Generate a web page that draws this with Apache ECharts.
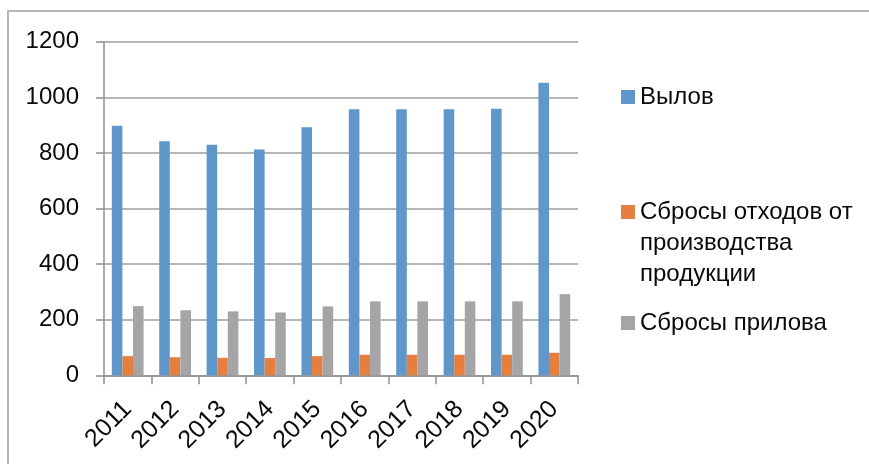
<!DOCTYPE html>
<html>
<head>
<meta charset="utf-8">
<script src="https://cdn.jsdelivr.net/npm/echarts@6/dist/echarts.min.js"></script>
<style>
html,body{margin:0;padding:0;background:#fff;}
#chart{width:869px;height:464px;}
</style>
</head>
<body>
<div id="chart"></div>
<script>
const years = ['2011','2012','2013','2014','2015','2016','2017','2018','2019','2020'];
const seriesNames = ['Вылов', 'Сбросы отходов от производства продукции', 'Сбросы прилова'];
const catch_ = [898, 842, 829, 812, 892, 957, 957, 957, 959, 1052];
const wasteDischarge = [69, 65, 63, 62, 69, 74, 74, 74, 74, 81];
const bycatchDischarge = [249, 234, 230, 226, 248, 266, 266, 266, 266, 292];
const yTicks = [0, 200, 400, 600, 800, 1000, 1200];

const colors = ['#5f97cb', '#e57f3f', '#a5a5a8'];
const font = 'Liberation Sans, Arial, sans-serif';

const chart = echarts.init(document.getElementById('chart'));
const legendText = {fontFamily: font, fontSize: 24, color: '#0a0a0a', lineHeight: 31};
chart.setOption({
  animation: false,
  color: colors,
  grid: {left: 104, right: 291, top: 41.7, bottom: 88.7, containLabel: false},
  legend: [
    {data: [seriesNames[0]], orient: 'vertical', left: 621, top: 81.5, padding: 0,
     itemWidth: 14, itemHeight: 14, icon: 'rect', textStyle: legendText},
    {data: [seriesNames[1]], orient: 'vertical', left: 621, top: 134.5, padding: 0,
     itemWidth: 14, itemHeight: 14, icon: 'rect',
     formatter: function(){ return '\n\nСбросы отходов от\nпроизводства\nпродукции'; },
     textStyle: legendText},
    {data: [seriesNames[2]], orient: 'vertical', left: 621, top: 307.5, padding: 0,
     itemWidth: 14, itemHeight: 14, icon: 'rect', textStyle: legendText}
  ],
  xAxis: {
    type: 'category',
    data: years,
    boundaryGap: true,
    axisLine: {lineStyle: {color: '#8f8f8f', width: 1.5}},
    axisTick: {show: true, length: 9, interval: 0, lineStyle: {color: '#8f8f8f', width: 1.5}},
    axisLabel: {rotate: 45, interval: 0, margin: 30, fontFamily: font, fontSize: 25, color: '#0a0a0a'}
  },
  yAxis: {
    type: 'value',
    min: yTicks[0],
    max: yTicks[yTicks.length - 1],
    interval: 200,
    axisLine: {show: true, lineStyle: {color: '#8f8f8f', width: 1.5}},
    axisTick: {show: true, length: 8, lineStyle: {color: '#8f8f8f', width: 1.5}},
    axisLabel: {margin: 25, fontFamily: font, fontSize: 24, color: '#0a0a0a',
                formatter: function(v){ return String(v); }},
    splitLine: {lineStyle: {color: '#9e9e9e', width: 1.5}}
  },
  graphic: [{
    type: 'polyline',
    shape: {points: [[8, 464], [8, 11], [869, 11]]},
    style: {stroke: '#a0a0a0', lineWidth: 1.5, fill: null},
    silent: true
  }],
  series: [
    {name: seriesNames[0], type: 'bar', data: catch_, barGap: '0%', barCategoryGap: '33%'},
    {name: seriesNames[1], type: 'bar', data: wasteDischarge, barGap: '0%', barCategoryGap: '33%'},
    {name: seriesNames[2], type: 'bar', data: bycatchDischarge, barGap: '0%', barCategoryGap: '33%'}
  ]
});
</script>
</body>
</html>
